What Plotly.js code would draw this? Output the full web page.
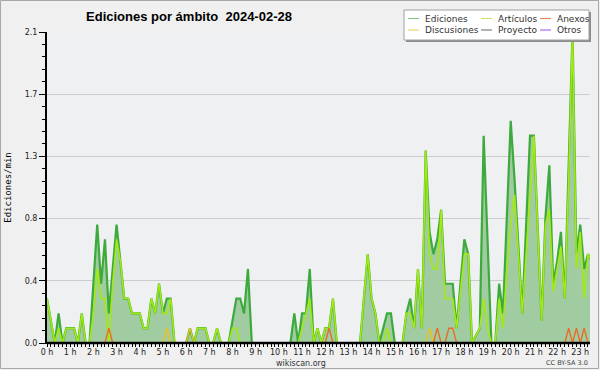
<!DOCTYPE html>
<html><head><meta charset="utf-8">
<script src="https://cdn.plot.ly/plotly-3.0.1.min.js"></script>
<style>html,body{margin:0;padding:0;background:#f0f0f0;}#chart{width:600px;height:370px;}</style>
</head><body><div id="chart"></div>
<script>
// ---- data (edits per minute, 10-minute slots from 00:00) ----
const seriesNames = ['Ediciones', 'Artículos', 'Anexos', 'Discusiones', 'Proyecto', 'Otros'];
const hourTicks = [0,1,2,3,4,5,6,7,8,9,10,11,12,13,14,15,16,17,18,19,20,21,22,23];
const hourLabels = ['0 h','1 h','2 h','3 h','4 h','5 h','6 h','7 h','8 h','9 h','10 h','11 h','12 h','13 h','14 h','15 h','16 h','17 h','18 h','19 h','20 h','21 h','22 h','23 h'];
const yTickVals = [0, 0.42, 0.84, 1.26, 1.68, 2.1];
const yTickText = ['0.0', '0.4', '0.8', '1.3', '1.7', '2.1'];

const ediciones = [
  .3,.15,0,.2,0,.1, .1,.1,0,.2,0,0,
  .4,.8,.4,.7,.2,.5, .8,.55,.3,.3,.2,.2,
  .2,.1,.1,.3,.2,.4, .2,.3,.3,0,0,0,
  0,.1,0,.1,.1,.1, 0,0,.1,0,0,0,
  .15,.3,.3,.2,.5,0, 0,0,0,0,0,0,
  0,0,0,0,.2,0, .2,.2,.5,0,.1,0,
  .1,.1,.3,0,0,0, 0,0,0,0,.3,.6,
  .3,.2,0,.1,.2,.2, 0,0,0,.2,.3,.1,
  .5,.1,1.3,.75,.6,.7, .9,.4,.4,.4,.1,.4,
  .7,.6,0,.05,.1,1.4, .7,0,0,.4,.2,.8,
  1.5,1.1,.65,.2,.8,1.4, 1.4,.8,.15,.85,1.2,.4,
  .55,.75,.3,1.2,2.1,.6, .8,.5,.6,.55
];
const articulos = [
  .3,.15,0,.1,0,.1, .1,.1,0,.2,0,0,
  .2,.5,.3,.3,0,.4, .7,.55,.3,.3,.2,.2,
  .2,.1,.1,.3,.2,.4, .2,.2,.3,0,0,0,
  0,0,0,.1,.1,.1, 0,0,.1,0,0,0,
  .1,.1,0,0,0,0, 0,0,0,0,0,0,
  0,0,0,0,0,0, .1,.2,.3,0,.1,0,
  .1,.1,.3,0,0,0, 0,0,0,0,.3,.6,
  .3,.2,0,0,.1,0, 0,0,0,.2,.2,.1,
  .5,.1,1.3,.6,.5,.5, .9,.3,.3,.3,.1,.35,
  .6,.6,0,.05,.1,.3, .1,0,0,.3,.1,.5,
  .8,1.0,.6,.2,.6,1.0, 1.4,.75,.15,.8,.9,.35,
  .5,.65,.3,1.1,2.1,.5, .75,.3,.6,.55
];
const anexos = [
  0,0,0,0,0,0, 0,0,0,0,0,0,
  0,0,0,0,.1,0, 0,0,0,0,0,0,
  0,0,0,0,0,0, 0,0,0,0,0,0,
  0,0,0,0,0,0, 0,0,0,0,0,0,
  0,0,0,0,0,0, 0,0,0,0,0,0,
  0,0,0,0,0,0, 0,0,0,0,0,0,
  0,.1,0,0,0,0, 0,0,0,0,0,0,
  0,0,0,0,0,0, 0,0,0,0,0,0,
  0,0,0,0,0,.1, 0,0,.1,.1,0,0,
  0,0,0,0,0,0, 0,0,0,0,0,0,
  0,0,0,0,0,0, 0,0,0,0,0,0,
  0,0,0,.1,0,.1, 0,.1,0,0
];
const discusiones = [
  0,0,0,0,0,0, 0,0,0,0,0,0,
  0,0,0,0,0,0, 0,0,0,0,0,0,
  0,0,0,0,0,0, 0,.1,0,0,0,0,
  0,.1,0,0,0,0, 0,0,0,0,0,0,
  0,0,0,0,0,0, 0,0,0,0,0,0,
  0,0,0,0,0,0, 0,0,0,0,0,0,
  0,0,0,0,0,0, 0,0,0,0,0,0,
  0,0,0,0,0,0, 0,0,0,0,0,0,
  0,0,0,.1,0,0, 0,0,0,0,0,0,
  0,0,0,0,0,0, 0,0,0,0,0,0,
  0,0,0,0,0,0, 0,0,0,0,0,0,
  0,0,0,0,0,0, 0,0,0,0
];
const proyecto = [];
const otros = [];

// ---- styling ----
const lineColors = {
  'Ediciones': '#3caa3c', 'Artículos': '#a2ea10', 'Anexos': '#ec6a26',
  'Discusiones': '#e8c21e', 'Proyecto': '#555555', 'Otros': '#9a44ee'
};
const legendColors = ['#7cc47c', '#c4e85a', '#ee7a4e', '#eccc52', '#666666', '#9a52e8'];

const slotHours = ediciones.map((_, i) => i / 6);
const yMinor = yTickVals.slice(0, -1).flatMap(v => [1, 2, 3, 4].map(k => v + k * 0.084));

const traces = [
  {x: slotHours, y: ediciones, name: seriesNames[0], mode: 'lines', fill: 'tozeroy',
   fillcolor: 'rgb(161,204,161)', line: {color: lineColors['Ediciones'], width: 2.2}},
  {x: slotHours, y: articulos, name: seriesNames[1], mode: 'lines', line: {color: lineColors['Artículos'], width: 1.6}},
  {x: slotHours, y: discusiones, name: seriesNames[3], mode: 'lines', line: {color: lineColors['Discusiones'], width: 1.4}},
  {x: slotHours, y: anexos, name: seriesNames[2], mode: 'lines', line: {color: lineColors['Anexos'], width: 1.4}},
  {x: proyecto, y: proyecto, name: seriesNames[4], mode: 'lines', line: {color: lineColors['Proyecto'], width: 1.4}},
  {x: otros, y: otros, name: seriesNames[5], mode: 'lines', line: {color: lineColors['Otros'], width: 1.4}}
];

// pixel -> paper helpers
const L = 47, R = 590, T = 32, B = 343;
const px = v => (v - L) / (R - L);
const py = v => (B - v) / (B - T);

const shapes = [];
const annotations = [];
// outer border
shapes.push({type: 'rect', xref: 'paper', yref: 'paper', x0: px(0.5), x1: px(598.5), y0: py(0.5), y1: py(368.5),
  line: {color: '#a8a8a8', width: 1}, fillcolor: 'rgba(0,0,0,0)', layer: 'below'});
// baseline drawn over the traces (hides zero-valued segments, as in the reference)
shapes.push({type: 'line', xref: 'paper', yref: 'paper', x0: 0, x1: 1, y0: 0, y1: 0,
  line: {color: '#000', width: 2.4}});
// legend box with shadow
shapes.push({type: 'rect', xref: 'paper', yref: 'paper', x0: px(406), x1: px(591), y0: py(12), y1: py(42),
  line: {width: 0}, fillcolor: '#8c8c8c'});
shapes.push({type: 'rect', xref: 'paper', yref: 'paper', x0: px(404), x1: px(589), y0: py(10), y1: py(40),
  line: {color: '#a0a0a0', width: 1}, fillcolor: '#ffffff'});
const colX = [408, 481, 540];
const rowY = [18.5, 30];
seriesNames.forEach((nm, k) => {
  const c = k % 3, r = Math.floor(k / 3);
  shapes.push({type: 'line', xref: 'paper', yref: 'paper', x0: px(colX[c]), x1: px(colX[c] + 11),
    y0: py(rowY[r]), y1: py(rowY[r]), line: {color: legendColors[k], width: 1}});
  annotations.push({xref: 'paper', yref: 'paper', x: px(colX[c] + 15), y: py(rowY[r]), xanchor: 'left', yanchor: 'middle',
    text: nm, showarrow: false, font: {family: 'DejaVu Sans', size: 9, color: '#333'}});
});
annotations.push({xref: 'paper', yref: 'paper', x: px(301), y: py(363), xanchor: 'center', yanchor: 'middle',
  text: 'wikiscan.org', showarrow: false, font: {family: 'DejaVu Sans', size: 8, color: '#333'}});
annotations.push({xref: 'paper', yref: 'paper', x: px(590), y: py(363), xanchor: 'right', yanchor: 'middle',
  text: 'CC BY-SA 3.0', showarrow: false, font: {family: 'DejaVu Sans', size: 6.5, color: '#444'}});

const layout = {
  width: 600, height: 370,
  margin: {l: L, r: 600 - R, t: T, b: 370 - B, pad: 0},
  paper_bgcolor: '#f0f0f0', plot_bgcolor: '#eef0f2',
  showlegend: false,
  font: {family: 'DejaVu Sans', size: 8, color: '#333'},
  title: {text: 'Ediciones por ámbito\u00a0 2024-02-28', x: 189 / 600, xanchor: 'center', xref: 'container',
    y: 1 - 16 / 370, yanchor: 'middle', yref: 'container',
    font: {family: 'Liberation Sans', size: 13, color: '#000', weight: 'bold'}},
  xaxis: {range: [0, 23.42], tickmode: 'array', tickvals: hourTicks, ticktext: hourLabels,
    ticks: 'outside', ticklen: 3, tickwidth: 1, tickcolor: '#000', ticklabelstandoff: -2,
    showline: true, linecolor: '#000', linewidth: 1, showgrid: false, zeroline: false,
    tickfont: {family: 'DejaVu Sans', size: 8, color: '#222'},
    minor: {tickmode: 'array', tickvals: slotHours, ticks: 'outside', ticklen: 3, tickwidth: 1, tickcolor: '#000', showgrid: false}},
  yaxis: {range: [0, 2.1], tickmode: 'array', tickvals: yTickVals, ticktext: yTickText,
    ticks: 'outside', ticklen: 6, tickwidth: 1, tickcolor: '#000',
    showline: true, linecolor: '#000', linewidth: 2, showgrid: true, gridcolor: '#cdcdcd', gridwidth: 1, zeroline: false,
    tickfont: {family: 'DejaVu Sans', size: 8, color: '#222'},
    title: {text: 'Ediciones/min', standoff: 12, font: {family: 'DejaVu Sans Mono', size: 9, color: '#000'}},
    minor: {tickmode: 'array', tickvals: yMinor, ticks: 'outside', ticklen: 3, tickwidth: 1, tickcolor: '#000', showgrid: false}},
  shapes: shapes,
  annotations: annotations
};

Plotly.newPlot('chart', traces, layout, {displayModeBar: false, staticPlot: true});
</script>
</body></html>
